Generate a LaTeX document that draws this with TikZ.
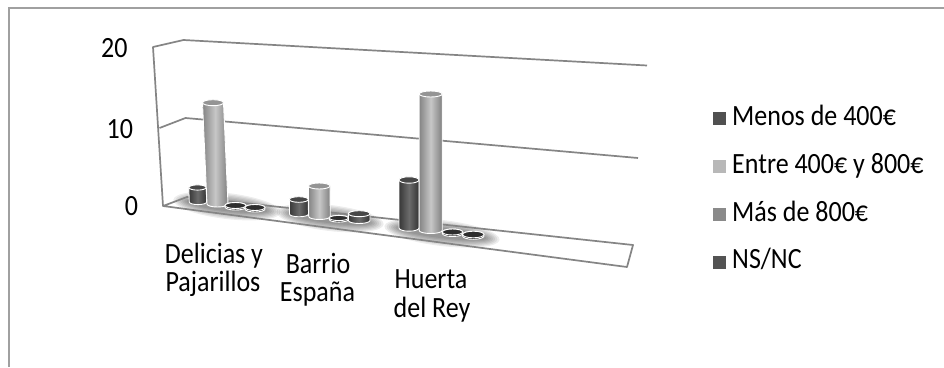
\documentclass[tikz,border=0pt]{standalone}
\usepackage{fontspec}
\setmainfont{Carlito}
\usepackage{graphicx}
\definecolor{framec}{HTML}{A0A0A0}
\definecolor{axisc}{HTML}{858585}
\definecolor{cMenos}{HTML}{505050}
\definecolor{cEntre}{HTML}{B8B8B8}
\definecolor{cMas}{HTML}{8A8A8A}
\definecolor{cNS}{HTML}{535353}
\newcommand\tx[1]{\scalebox{1}[1.13]{#1}}
\newcommand\drawcyl[7]{%
  \path[body#7] (#1-#5,#2) arc[start angle=180,end angle=360,x radius=#5pt,y radius=#6pt]
     -- (#3+#5,#4) arc[start angle=0,end angle=180,x radius=#5pt,y radius=#6pt] -- cycle;
  \path[top#7] (#3,#4) ellipse[x radius=#5pt,y radius=#6pt];
}
\tikzset{
  bodydark/.style={left color=black!78, right color=black!80, middle color=black!58, draw=white, line width=0.9pt},
  topdark/.style={fill=black!72, draw=white, line width=0.9pt},
  bodylight/.style={left color=black!48, right color=black!50, middle color=black!22, draw=white, line width=0.9pt},
  toplight/.style={fill=black!42, draw=white, line width=0.9pt},
  bodydisk/.style={fill=black!85, draw=white, line width=0.9pt},
  topdisk/.style={fill=black!82, draw=white, line width=0.9pt},
  txt/.style={inner sep=0pt, font=\fontsize{26}{29}\selectfont},
  legsq/.style={inner sep=0pt, minimum size=13pt, draw=none},
  axline/.style={draw=axisc, line width=1.7pt, line join=round},
  glow/.style={fill=black, opacity=0.07},
}
\begin{document}
\begin{tikzpicture}[x=1pt,y=-1pt]
\useasboundingbox (0,0) rectangle (944,367);
\fill[white] (0,0) rectangle (944,367);
% chart frame
\draw[framec, line width=2pt] (9,367) -- (9,8) -- (944,8);
% shadows
\foreach \cx/\cy/\w in {227/206/54, 330/218/54, 442/233/58}{
  \foreach \k in {0,...,6}{
    \fill[glow, rotate around={-6.8:(\cx,\cy)}] (\cx,\cy) ellipse[x radius={\w-2.2*\k}, y radius={13-1.3*\k}];
  }
}
% walls and floor
\coordinate (A) at (153,47);
\coordinate (B) at (183.5,40);
\coordinate (C) at (163,206);
\coordinate (D) at (187,197);
\coordinate (G1) at (159.5,128);
\coordinate (G2) at (185.5,118);
\coordinate (BT) at (647,65.5);
\coordinate (BG) at (638,158);
\coordinate (FB) at (633,245);
\coordinate (FF) at (627,267);
\draw[axline] (C) -- (A) -- (B) -- (BT);
\draw[axline] (G1) -- (G2) -- (BG);
\draw[axline] (C) -- (D) -- (FB) -- (FF) -- cycle;
% cylinders: Delicias y Pajarillos
\drawcyl{198}{202}{197.5}{187.5}{8.7}{2.6}{dark}
\drawcyl{217.5}{204}{213}{102.7}{10.5}{3}{light}
\drawcyl{235.5}{207}{235.5}{205.5}{10.5}{3}{disk}
\drawcyl{255}{209}{255}{207.5}{10}{3}{disk}
% Barrio Espana
\drawcyl{299}{214}{298.8}{199.5}{9.5}{2.8}{dark}
\drawcyl{319.5}{216.5}{319.2}{186}{10.8}{3}{light}
\drawcyl{338.8}{219.5}{338.8}{218}{9.5}{2.6}{disk}
\drawcyl{359.2}{220.5}{359.2}{213.7}{10.8}{3}{dark}
% Huerta del Rey
\drawcyl{409}{228}{409}{180}{10}{3.2}{dark}
\drawcyl{430.7}{230.5}{430.7}{94}{11.5}{3}{light}
\drawcyl{452.5}{233.5}{452.5}{232}{10.2}{3}{disk}
\drawcyl{473.3}{236}{473.3}{234.5}{10.7}{3.3}{disk}
% axis labels
\node[txt, anchor=base east] (l20) at (127.7,57.3) {\tx{20}};
\node[txt, anchor=base east] (l10) at (133.3,138.3) {\tx{10}};
\node[txt, anchor=base east] (l0) at (138.3,215.7) {\tx{0}};
% category labels
\node[txt, anchor=base] (c1a) at (214,263.3) {\tx{Delicias y}};
\node[txt, anchor=base] (c1b) at (213,291.7) {\tx{Pajarillos}};
\node[txt, anchor=base] (c2a) at (318,273.3) {\tx{Barrio}};
\node[txt, anchor=base] (c2b) at (317.5,301.7) {\tx{España}};
\node[txt, anchor=base] (c3a) at (431,288) {\tx{Huerta}};
\node[txt, anchor=base] (c3b) at (432,317) {\tx{del Rey}};
% legend
\node[legsq, fill=cMenos] (s1) at (719.7,118.5) {};
\node[legsq, fill=cEntre] (s2) at (719.7,166.8) {};
\node[legsq, fill=cMas] (s3) at (719.7,214.5) {};
\node[legsq, fill=cNS] (s4) at (719.7,262.5) {};
\node[txt, anchor=base west] (t1) at (732,125) {\tx{Menos de 400€}};
\node[txt, anchor=base west] (t2) at (732,173.3) {\tx{Entre 400€ y 800€}};
\node[txt, anchor=base west] (t3) at (732,221) {\tx{Más de 800€}};
\node[txt, anchor=base west] (t4) at (732,268.8) {\tx{NS/NC}};
\end{tikzpicture}
\end{document}
